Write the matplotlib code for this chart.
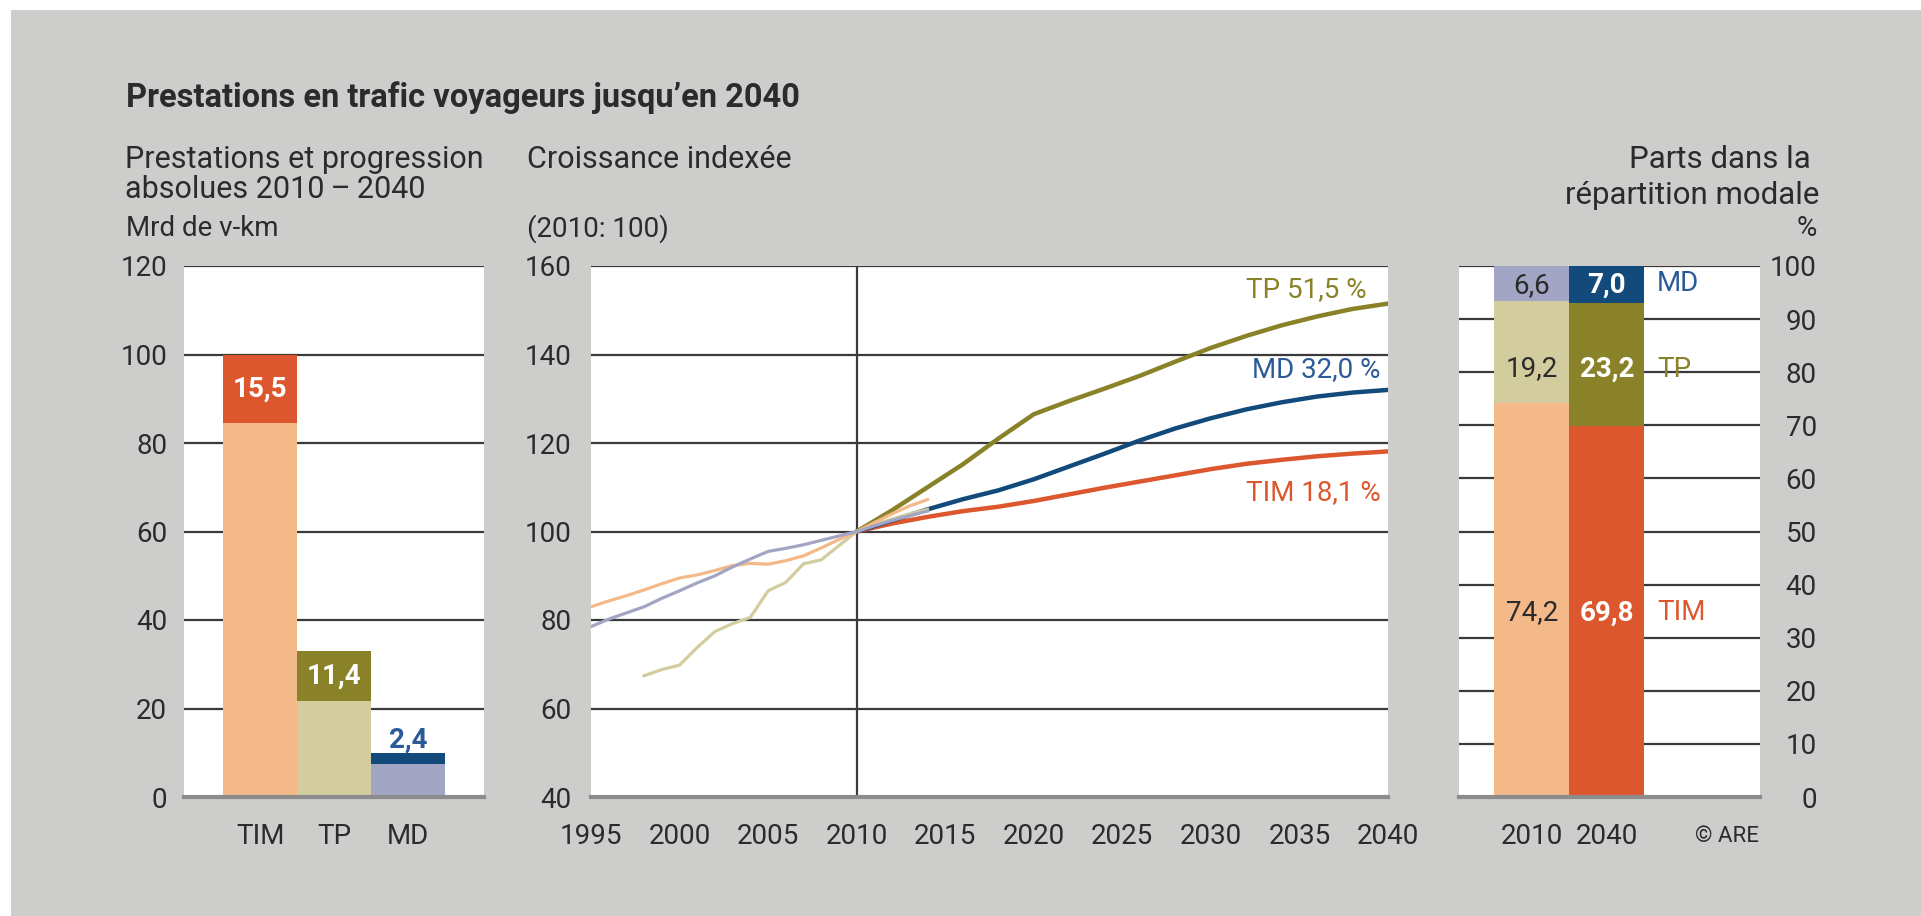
import matplotlib
matplotlib.use('Agg')
import matplotlib.pyplot as plt
from matplotlib.patches import Rectangle

plt.rcParams['font.family'] = ['Roboto', 'DejaVu Sans']

W, H = 1921, 916

# colours
TIM_L, TIM_D = '#f3b988', '#dc562e'
TP_L, TP_D = '#d3cc9f', '#8a8228'
MD_L, MD_D = '#a3a5c5', '#134a7c'
MD_TXT = '#2a5a97'
GRID = '#3a3a3a'
BASE = '#8c8c8c'
TXT = '#2b2b2b'
PANEL = '#cdcdcc'

# left chart: absolute values 2010 and growth 2010-2040 (Mrd v-km)
modes = ['TIM', 'TP', 'MD']
base_2010 = [84.5, 21.6, 7.5]
growth = [15.5, 11.4, 2.4]
growth_lbl = ['15,5', '11,4', '2,4']

# middle chart: indexed growth (2010 = 100)
hist_years_long = list(range(1995, 2015))
tim_hist = [83.0, 84.3, 85.5, 86.8, 88.2, 89.5, 90.2, 91.2, 92.3, 92.8,
            92.6, 93.4, 94.5, 96.3, 98.2, 100.0, 102.0, 104.0, 105.8, 107.2]
md_hist = [78.5, 80.2, 81.6, 83.0, 84.9, 86.6, 88.4, 90.0, 92.0, 93.8,
           95.5, 96.2, 97.0, 98.0, 99.0, 100.0, 101.3, 102.5, 103.6, 104.6]
hist_years_tp = list(range(1998, 2015))
tp_hist = [67.4, 68.8, 69.8, 73.8, 77.4, 79.2, 80.6, 86.6, 88.5, 92.7,
           93.6, 96.8, 100.0, 101.5, 102.8, 104.0, 105.0]
proj_years = list(range(2010, 2041, 2))
tp_proj = [100, 104.8, 110.0, 115.2, 121.0, 126.5, 129.5, 132.3, 135.2,
           138.4, 141.5, 144.2, 146.6, 148.6, 150.3, 151.5]
md_proj = [100, 102.5, 105.0, 107.3, 109.3, 111.8, 114.7, 117.6, 120.6,
           123.3, 125.6, 127.6, 129.2, 130.5, 131.4, 132.0]
tim_proj = [100, 101.8, 103.3, 104.6, 105.6, 106.9, 108.4, 109.9, 111.3,
            112.7, 114.1, 115.3, 116.2, 117.0, 117.6, 118.1]

# right chart: modal split (%)
share_years = ['2010', '2040']
share_tim = [74.2, 69.8]
share_tp = [19.2, 23.2]
share_md = [6.6, 7.0]

FS = 20
FS_HEAD = 22


def px_axes(x0, x1, y0, y1):
    return [x0 / W, 1 - y1 / H, (x1 - x0) / W, (y1 - y0) / H]


def ftext(x, y, s, **kw):
    kw.setdefault('fontsize', FS_HEAD)
    kw.setdefault('color', TXT)
    kw.setdefault('va', 'center')
    fig.text(x / W, 1 - y / H, s, **kw)


def style(ax, ymin, ymax, step):
    ax.set_facecolor('white')
    for sp in ax.spines.values():
        sp.set_visible(False)
    ax.set_ylim(ymin, ymax)
    ax.set_yticks(range(ymin, ymax + 1, step))
    ax.set_axisbelow(True)
    ax.yaxis.grid(True, color=GRID, lw=1.6)
    ax.tick_params(length=0, labelsize=FS, colors=TXT)
    ax.tick_params(axis='x', pad=19)
    ax.axhline(ymin, color=BASE, lw=3, zorder=6, clip_on=False)


fig = plt.figure(figsize=(W / 100, H / 100), dpi=100, facecolor='white')
fig.patches.append(Rectangle((11 / W, 0), 1, 1 - 10 / H, transform=fig.transFigure,
                             facecolor=PANEL, edgecolor='none', zorder=-10))

# ---- left chart
ax1 = fig.add_axes(px_axes(184, 484, 266, 797))
style(ax1, 0, 120, 20)
xs = range(len(modes))
ax1.bar(xs, base_2010, width=1.0, color=[TIM_L, TP_L, MD_L], zorder=3)
ax1.bar(xs, growth, bottom=base_2010, width=1.0, color=[TIM_D, TP_D, MD_D], zorder=3)
ax1.set_xlim(-1.03, 3.03)
ax1.set_xticks(list(xs))
ax1.set_xticklabels(modes)
ax1.tick_params(axis='y', pad=12)
for i in range(2):
    ax1.text(i, base_2010[i] + growth[i] / 2, growth_lbl[i], ha='center', va='center',
             color='white', fontsize=FS, fontweight='bold', zorder=5)
ax1.text(2, base_2010[2] + growth[2] + 3.0, growth_lbl[2], ha='center', va='center',
         color=MD_TXT, fontsize=FS, fontweight='bold', zorder=5)

# ---- middle chart
ax2 = fig.add_axes(px_axes(591, 1388, 266, 797))
style(ax2, 40, 160, 20)
ax2.set_xlim(1995, 2040)
ax2.set_xticks(range(1995, 2041, 5))
ax2.tick_params(axis='y', pad=14)
ax2.axvline(2010, color=GRID, lw=1.6, zorder=1)
ax2.plot(proj_years, tim_proj, color=TIM_D, lw=3.2, zorder=3, solid_capstyle='round')
ax2.plot(proj_years, md_proj, color=MD_D, lw=3.2, zorder=3, solid_capstyle='round')
ax2.plot(proj_years, tp_proj, color=TP_D, lw=3.2, zorder=3, solid_capstyle='round')
ax2.plot(hist_years_tp, tp_hist, color=TP_L, lw=2.3, zorder=4)
ax2.plot(hist_years_long, tim_hist, color=TIM_L, lw=2.3, zorder=4)
ax2.plot(hist_years_long, md_hist, color=MD_L, lw=2.3, zorder=4)
ax2.text(2038.8, 154.6, 'TP 51,5 %', ha='right', va='center', color=TP_D, fontsize=FS)
ax2.text(2039.6, 136.5, 'MD 32,0 %', ha='right', va='center', color=MD_TXT, fontsize=FS)
ax2.text(2039.6, 108.9, 'TIM 18,1 %', ha='right', va='center', color=TIM_D, fontsize=FS)

# ---- right chart
ax3 = fig.add_axes(px_axes(1459, 1760, 266, 797))
style(ax3, 0, 100, 10)
ys = range(len(share_years))
b_tp = share_tim
b_md = [a + b for a, b in zip(share_tim, share_tp)]
ax3.bar(ys, share_tim, width=1.0, color=[TIM_L, TIM_D], zorder=3)
ax3.bar(ys, share_tp, bottom=b_tp, width=1.0, color=[TP_L, TP_D], zorder=3)
ax3.bar(ys, share_md, bottom=b_md, width=1.0, color=[MD_L, MD_D], zorder=3)
ax3.set_xlim(-0.97, 3.04)
ax3.set_xticks(list(ys))
ax3.set_xticklabels(share_years)
ax3.yaxis.tick_right()
ax3.tick_params(axis='y', pad=41)
for lab in ax3.get_yticklabels():
    lab.set_ha('right')
row_y = [34.7, 80.6, 96.4]
for j, vals in enumerate([share_tim, share_tp, share_md]):
    for i in range(2):
        s = f'{vals[i]:.1f}'.replace('.', ',')
        if i == 0:
            ax3.text(i, row_y[j], s, ha='center', va='center', color=TXT, fontsize=FS, zorder=5)
        else:
            ax3.text(i, row_y[j], s, ha='center', va='center', color='white',
                     fontsize=FS, fontweight='bold', zorder=5)
for name, y, c in [('TIM', 34.7, TIM_D), ('TP', 80.6, TP_D), ('MD', 96.7, MD_TXT)]:
    ax3.text(1.67, y, name, ha='left', va='center', color=c, fontsize=FS, zorder=5)

# ---- texts
ftext(126, 98, 'Prestations en trafic voyageurs jusqu\u2019en 2040', fontweight='bold', fontsize=23.5)
ftext(125, 159, 'Prestations et progression', ha='left')
ftext(125, 190, 'absolues 2010\u2009\u2013\u20092040', ha='left')
ftext(126, 229, 'Mrd de v-km', ha='left', fontsize=FS)
ftext(527, 159, 'Croissance indexée', ha='left')
ftext(527, 229, '(2010: 100)', ha='left', fontsize=FS)
ftext(1811, 159, 'Parts dans la', ha='right', fontsize=22.5)
ftext(1819, 196, 'répartition modale', ha='right', fontsize=22.5)
ftext(1817, 229, '%', ha='right', fontsize=FS)
ftext(1759, 836, '© ARE', ha='right', fontsize=16)

fig.savefig('out.png', dpi=100, facecolor=fig.get_facecolor())
